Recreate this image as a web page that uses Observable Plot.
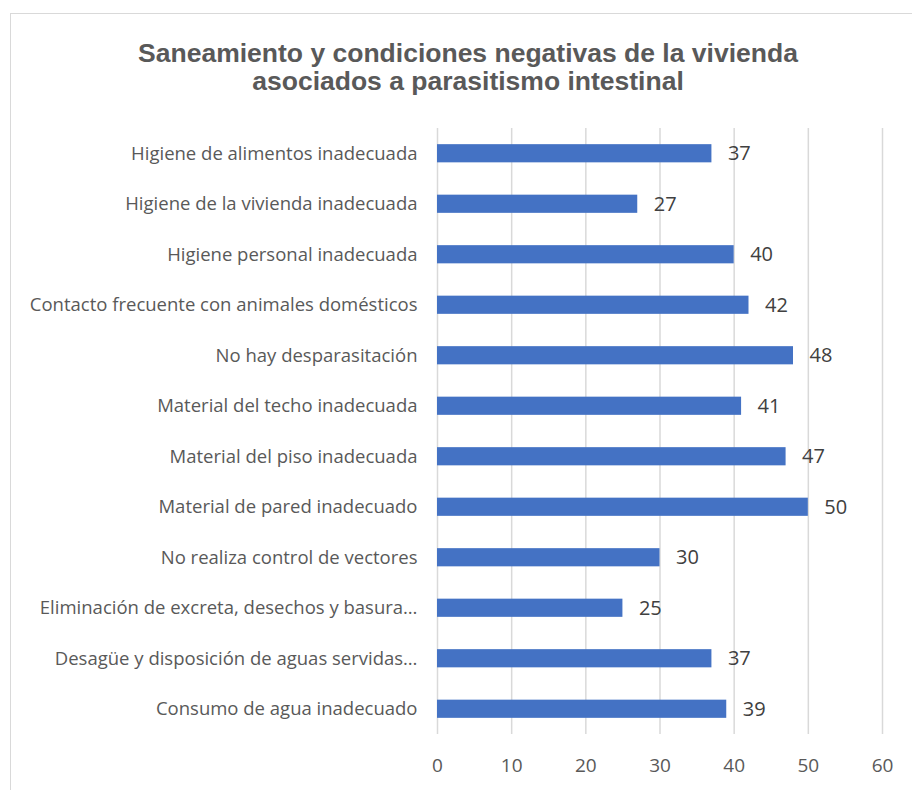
<!DOCTYPE html>
<html><head><meta charset="utf-8">
<script src="https://cdn.jsdelivr.net/npm/d3@7"></script>
<script src="https://cdn.jsdelivr.net/npm/@observablehq/plot@0.6"></script>
<style>
body{margin:0;width:912px;height:790px;overflow:hidden;background:#fff;position:relative;}
#frame{position:absolute;left:10px;top:13px;width:916px;height:800px;border:1.5px solid #d9d9d9;box-sizing:border-box;}
#title{position:absolute;left:10px;width:916px;top:39px;text-align:center;font:bold 26.5px "Liberation Sans",Arial,sans-serif;line-height:28px;color:#595959;}
#chart{position:absolute;left:0;top:0;}
</style></head><body>
<div id="frame"></div>
<div id="title">Saneamiento y condiciones negativas de la vivienda<br>asociados a parasitismo intestinal</div>
<div id="chart"></div>
<script>
const categories = [
  "Higiene de alimentos inadecuada",
  "Higiene de la vivienda inadecuada",
  "Higiene personal inadecuada",
  "Contacto frecuente con animales domésticos",
  "No hay desparasitación",
  "Material del techo inadecuada",
  "Material del piso inadecuada",
  "Material de pared inadecuado",
  "No realiza control de vectores",
  "Eliminación de excreta, desechos y basura…",
  "Desagüe y disposición de aguas servidas…",
  "Consumo de agua inadecuado"
];
const values = [37, 27, 40, 42, 48, 41, 47, 50, 30, 25, 37, 39];
const xTicks = [0, 10, 20, 30, 40, 50, 60];

const data = categories.map((c, i) => ({category: c, value: values[i]}));

const chart = Plot.plot({
  width: 912,
  height: 790,
  marginTop: 128,
  marginBottom: 56,
  marginLeft: 437,
  marginRight: 30,
  style: {background: "transparent", overflow: "visible"},
  x: {domain: [0, 60], ticks: xTicks, label: null},
  y: {domain: categories, label: null, padding: 0.64, paddingOuter: 0.32, round: false},
  marks: [
    Plot.ruleX(xTicks, {stroke: "#d9d9d9", strokeWidth: 1.5, strokeOpacity: 1}),
    Plot.barX(data, {x: "value", y: "category", fill: "#4472c4"}),
    Plot.text(data, {x: "value", y: "category", text: d => String(d.value), dx: 16, textAnchor: "start", fill: "#404040", fontSize: 20, fontFamily: "'Open Sans', sans-serif"}),
    Plot.axisX({ticks: xTicks, tickSize: 0, tickPadding: 24, fontSize: 19, fill: "#595959", fontFamily: "'Open Sans', sans-serif", label: null}),
    Plot.axisY({tickSize: 0, tickPadding: 20, fontSize: 18.5, fill: "#595959", fontFamily: "'Open Sans', sans-serif", label: null})
  ]
});
document.getElementById("chart").appendChild(chart);
</script>
</body></html>
